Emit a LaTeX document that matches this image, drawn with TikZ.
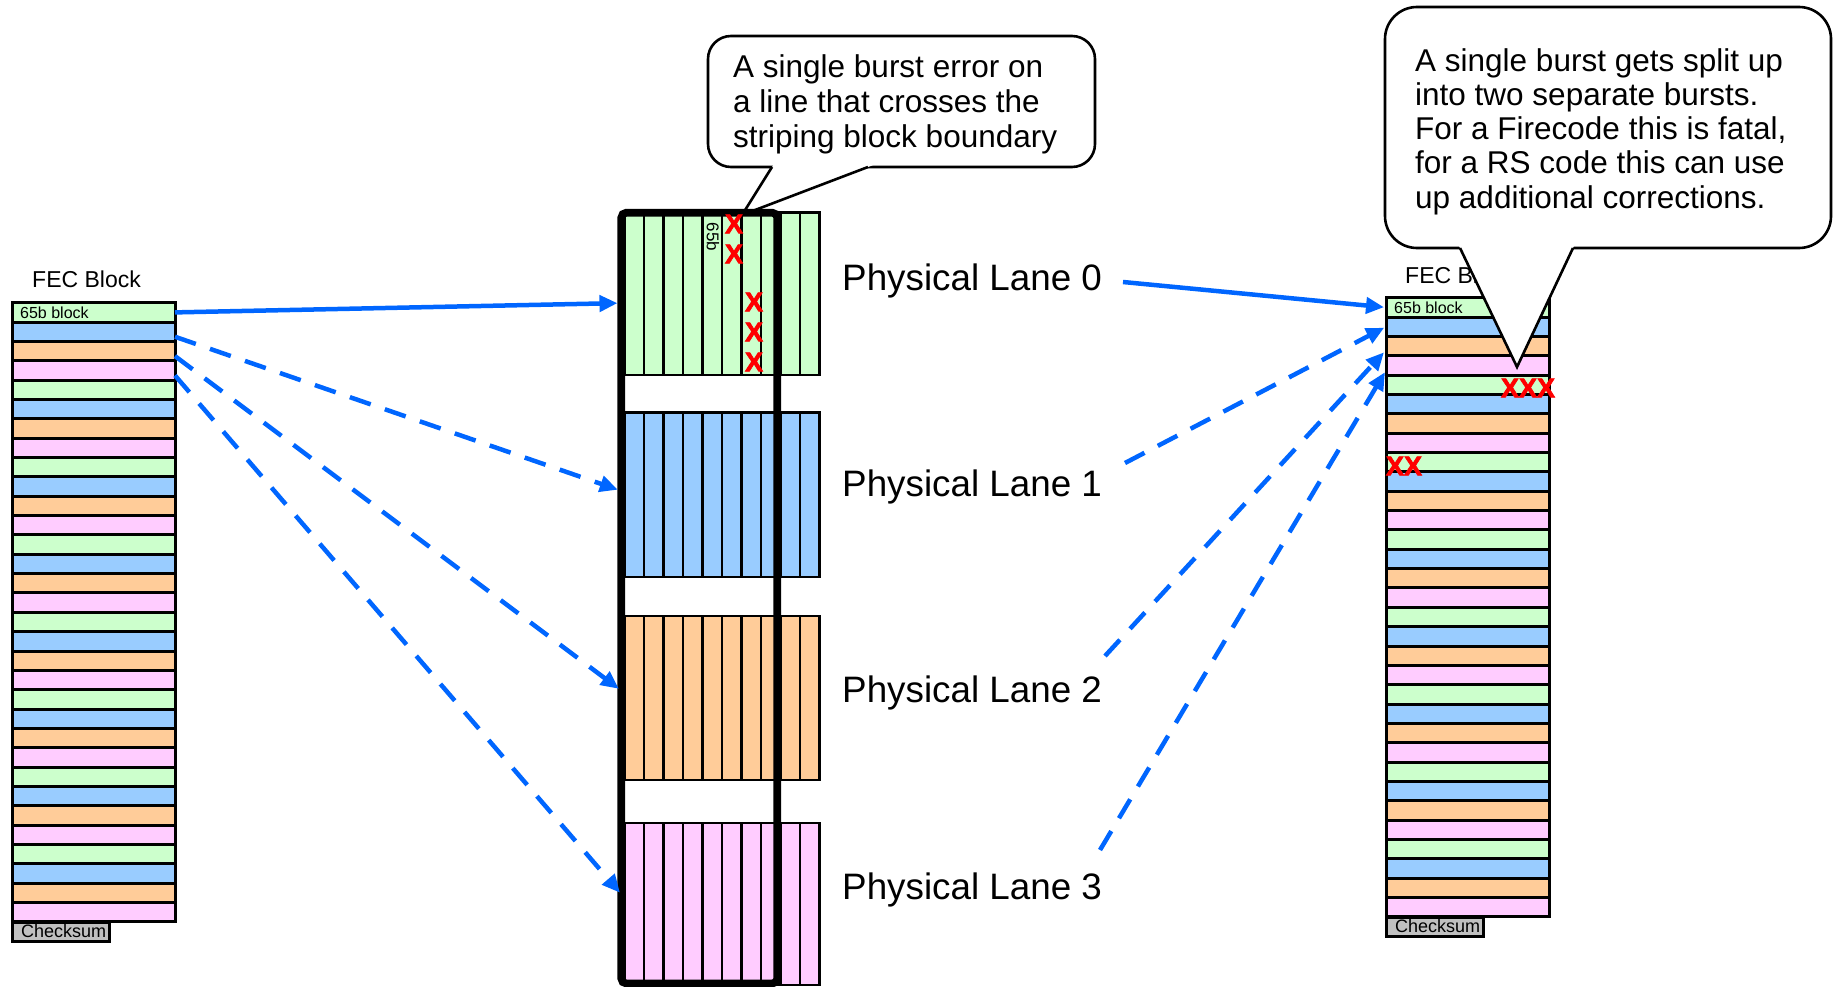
\documentclass[tikz,border=0pt]{standalone}
\usepackage{fontspec}
\setmainfont{Liberation Sans}[BoldFont={Liberation Sans Bold}]
\newfontfamily\markfont{Liberation Sans Bold}[FakeBold=2.5]
\usetikzlibrary{arrows.meta}

\definecolor{rowgreen}{RGB}{204,255,204}
\definecolor{rowblue}{RGB}{153,204,255}
\definecolor{roworange}{RGB}{255,204,153}
\definecolor{rowpink}{RGB}{255,204,255}
\definecolor{sumgray}{RGB}{192,192,192}
\definecolor{linkblue}{RGB}{0,102,255}
\colorlet{rowc0}{rowgreen}
\colorlet{rowc1}{rowblue}
\colorlet{rowc2}{roworange}
\colorlet{rowc3}{rowpink}

\begin{document}
\begin{tikzpicture}[x=1pt,y=-1pt,
  fecrow/.style={draw=black, line width=3pt, inner sep=0pt, outer sep=0pt,
                 minimum width=163pt, minimum height=19.35pt},
  sumbox/.style={draw=black, line width=3pt, fill=sumgray, inner sep=0pt,
                 outer sep=0pt, minimum width=97pt, minimum height=19.5pt},
  tinytext/.style={inner sep=0pt, anchor=base west, font=\fontsize{16}{19}\selectfont},
  sumtext/.style={inner sep=0pt, anchor=base west, font=\fontsize{18}{21}\selectfont},
  blocklabel/.style={inner sep=0pt, anchor=base west, font=\fontsize{23}{27}\selectfont},
  lanelabel/.style={inner sep=0pt, anchor=base west, font=\fontsize{36.8}{44}\selectfont},
  calltext/.style={inner sep=0pt, anchor=base west, font=\fontsize{31.5}{35}\selectfont},
  lanebox/.style={draw=black, line width=2.4pt, inner sep=0pt, outer sep=0pt,
                  minimum width=195pt},
  cellline/.style={draw=black, line width=2.4pt},
  stripeframe/.style={draw=black, line width=7.7pt, rounded corners=5pt},
  balloon/.style={draw=black, line width=2.6pt, fill=white},
  errmark/.style={inner sep=0pt, text=red, font=\markfont\fontsize{27}{30}\selectfont},
  link/.style={draw=linkblue, line width=4.5pt, -{Triangle[length=18pt,width=16pt]}},
  dashlink/.style={link, dash pattern=on 22pt off 15pt},
]
\useasboundingbox (0,0) rectangle (1833,987);

% ---------- transmitted FEC block ----------
\node[blocklabel] (lefttitle) at (32,287) {FEC Block};
\foreach \k in {0,...,31} {
  \pgfmathtruncatemacro{\m}{mod(\k,4)}
  \node[fecrow, fill=rowc\m] (L\k) at (93.5,312.4+19.35*\k) {};
}
\node[tinytext] (leftfirst) at (20,318) {65b block};
\node[sumbox] (leftsum) at (60.5,932) {};
\node[sumtext] (leftsumtext) at (21,937.5) {Checksum};

% ---------- four physical lanes ----------
\foreach \n/\yc/\h/\col in {0/293.75/162.5/rowgreen, 1/494.5/164.4/rowblue,
                             2/698/164/roworange, 3/904/162/rowpink} {
  \node[lanebox, fill=\col, minimum height=\h pt] (lane\n) at (722,\yc) {};
  \foreach \c in {1,...,9}
    \draw[cellline] ([xshift={19.5*\c}]lane\n.north west) -- ([xshift={19.5*\c}]lane\n.south west);
}
\node[inner sep=0pt, rotate=-90, font=\fontsize{17}{20}\selectfont] (lanetag) at (713,237) {65b};

% ---------- balloon: burst error crossing the boundary ----------
\path[balloon] (708,36) [rounded corners=23pt] rectangle (1095,167);
\fill[white] (773.9,164) -- (742,215) -- (875.9,164) -- cycle;
\draw[black, line width=2.6pt, line join=miter] (772,167) -- (742,215) -- (868,167);
\foreach \t [count=\i] in {A single burst error on, a line that crosses the, striping block boundary}
  \node[calltext] (midnote\i) at (733,42.5+35*\i) {\t};

% ---------- striping block frame ----------
\draw[stripeframe] (621.3,212.7) rectangle (777.3,983.5);

% ---------- errors on lane 0 ----------
\node[errmark] (e1) at (734,224) {X};
\node[errmark] (e2) at (734,254) {X};
\node[errmark] (e3) at (754,302) {X};
\node[errmark] (e4) at (754,332) {X};
\node[errmark] (e5) at (754,362) {X};

% ---------- lane labels ----------
\node[lanelabel] (pl0) at (842,290) {Physical Lane 0};
\node[lanelabel] (pl1) at (842,496) {Physical Lane 1};
\node[lanelabel] (pl2) at (842,702) {Physical Lane 2};
\node[lanelabel] (pl3) at (842,899) {Physical Lane 3};

% ---------- received FEC block ----------
\node[blocklabel] (righttitle) at (1405,283) {FEC Block};
\foreach \k in {0,...,31} {
  \pgfmathtruncatemacro{\m}{mod(\k,4)}
  \node[fecrow, fill=rowc\m] (R\k) at (1467.5,307.4+19.35*\k) {};
}
\node[tinytext] (rightfirst) at (1394,313) {65b block};
\node[sumbox] (rightsum) at (1434.5,927) {};
\node[sumtext] (rightsumtext) at (1395,932.5) {Checksum};
\node[errmark] (xxx) at (1528,388) {XXX};
\node[errmark] (xx) at (1404,466) {XX};

% ---------- balloon: burst split in two ----------
\path[balloon] (1385,7) [rounded corners=32pt] rectangle (1831,248);
\fill[white] (1458.6,245) -- (1517,367) -- (1574.4,245) -- cycle;
\draw[black, line width=2.6pt, line join=miter] (1460,248) -- (1517,367) -- (1573,248);
\foreach \t [count=\i] in {A single burst gets split up, into two separate bursts.,
                           {For a Firecode this is fatal,}, for a RS code this can use,
                           up additional corrections.}
  \node[calltext] (rightnote\i) at (1415,38+34*\i) {\t};

% ---------- striping: block rows onto lanes ----------
\draw[link, shorten >=7pt] (L0.east) -- ([yshift=-9.25pt]lane0.west);
\draw[dashlink, shorten >=7pt] ([yshift=-5pt]L1.east) -- ([yshift=2.5pt]lane1.west);
\draw[dashlink, shorten >=7pt] ([yshift=-5pt]L2.east) -- ([yshift=5pt]lane2.west);
\draw[dashlink, shorten >=7pt] ([yshift=-5pt]L3.east) -- ([yshift=6pt]lane3.west);

% ---------- de-striping: lanes back into the block ----------
\coordinate (s0) at (1123,282);
\coordinate (s1) at (1125,463);
\coordinate (s2) at (1105,656);
\coordinate (s3) at (1100,850);
\draw[link, shorten >=2pt] (s0) -- (R0.west);
\draw[dashlink, shorten >=2pt] (s1) -- (R1.west);
\draw[dashlink, shorten >=3pt] (s2) -- ([yshift=-4pt]R2.west);
\draw[dashlink, shorten >=2pt] (s3) -- ([yshift=-5pt]R3.west);
\end{tikzpicture}
\end{document}
